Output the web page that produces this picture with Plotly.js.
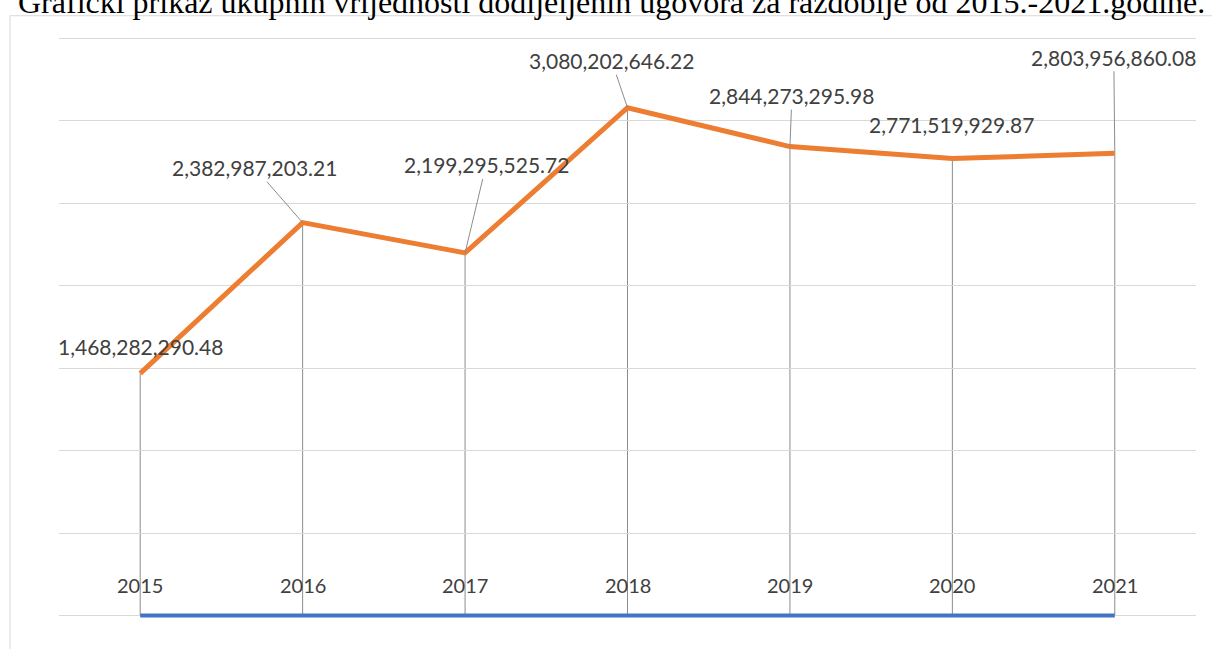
<!DOCTYPE html>
<html>
<head>
<meta charset="utf-8">
<script src="https://cdn.plot.ly/plotly-3.0.1.min.js"></script>
<style>
  html, body { margin: 0; padding: 0; background: #ffffff; }
  #chart { width: 1212px; height: 649px; }
</style>
</head>
<body>
<div id="chart"></div>
<script>
// ---- data ----
const categories = ['2015', '2016', '2017', '2018', '2019', '2020', '2021'];
const totalValues = [1468282290.48, 2382987203.21, 2199295525.72, 3080202646.22, 2844273295.98, 2771519929.87, 2803956860.08];
const yearValues = [2015, 2016, 2017, 2018, 2019, 2020, 2021];
const titleText = 'Grafički prikaz ukupnih vrijednosti dodijeljenih ugovora za razdoblje od 2015.-2021.godine.';

// ---- label placement (pixel offsets from each point, styling only) ----
const labelDx = [0, -48, 21, -16, 2, -1, -1];
const labelDy = [-27, -55, -88, -47, -51, -34, -96];
const showLeader = [false, true, true, true, true, false, true];

const fmt = v => v.toLocaleString('en-US', {minimumFractionDigits: 2, maximumFractionDigits: 2});

const textColor = '#404040';
const fontFam = 'Lato, "Open Sans", sans-serif';

const traces = [
  {
    type: 'scatter', mode: 'lines', name: 'Godina',
    x: categories, y: yearValues,
    line: {color: '#4472C4', width: 4},
    hoverinfo: 'skip'
  },
  {
    type: 'scatter', mode: 'lines', name: 'Ukupna vrijednost',
    x: categories, y: totalValues,
    line: {color: '#ED7D31', width: 5},
    hoverinfo: 'skip'
  }
];

const annotations = [];
const shapes = [];
categories.forEach((c, i) => {
  annotations.push({
    x: i, y: totalValues[i], xref: 'x', yref: 'y',
    text: fmt(totalValues[i]),
    font: {family: fontFam, size: 21, color: textColor},
    showarrow: true, arrowhead: 0, arrowwidth: 1, standoff: 0,
    arrowcolor: showLeader[i] ? '#8c8c8c' : 'rgba(0,0,0,0)',
    ax: labelDx[i], ay: labelDy[i],
    xanchor: 'center', yanchor: 'middle'
  });
  annotations.push({
    x: i, y: yearValues[i], xref: 'x', yref: 'y',
    text: String(yearValues[i]),
    font: {family: fontFam, size: 20, color: textColor},
    showarrow: false, yshift: 31,
    xanchor: 'center', yanchor: 'middle'
  });
  // drop line from point to the axis
  shapes.push({
    type: 'line', xref: 'x', yref: 'y',
    x0: i, x1: i, y0: 0, y1: totalValues[i],
    line: {color: '#8c8c8c', width: 1},
    layer: 'below'
  });
});
// chart area frame
shapes.push({
  type: 'rect', xref: 'paper', yref: 'paper',
  x0: -0.0431, x1: 1.03, y0: -0.09, y1: 1.033,
  line: {color: '#d9d9d9', width: 1}, fillcolor: 'rgba(0,0,0,0)',
  layer: 'below'
});

const layout = {
  width: 1212, height: 649,
  margin: {l: 59, r: 16, t: 35, b: 30},
  paper_bgcolor: '#ffffff', plot_bgcolor: '#ffffff',
  showlegend: false,
  title: {
    text: titleText,
    font: {family: '"Liberation Serif", "Times New Roman", serif', size: 32, color: '#000000'},
    xref: 'container', yref: 'container',
    x: 18 / 1212, xanchor: 'left',
    y: 1 - 13 / 649, yanchor: 'bottom'
  },
  xaxis: {
    type: 'category', range: [-0.5, 6.5],
    showticklabels: false, showgrid: false, zeroline: false, showline: false, ticks: ''
  },
  yaxis: {
    range: [-2.12e7, 3.5212e9], dtick: 5e8, tick0: 0,
    showticklabels: false, showgrid: true, gridcolor: '#d9d9d9', gridwidth: 1,
    zeroline: true, zerolinecolor: '#d9d9d9', zerolinewidth: 1, showline: false, ticks: ''
  },
  annotations: annotations,
  shapes: shapes
};

Plotly.newPlot('chart', traces, layout, {staticPlot: true, displayModeBar: false});
</script>
</body>
</html>
